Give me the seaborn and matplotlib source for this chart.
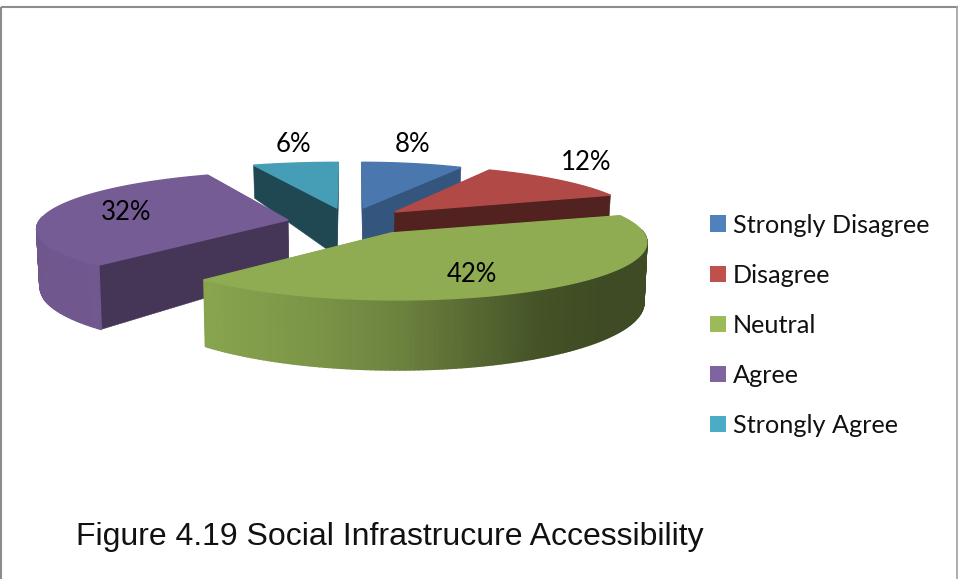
import numpy as np
import matplotlib
matplotlib.use("Agg")
import matplotlib.pyplot as plt
from matplotlib.patches import Patch
import seaborn as sns

# ---- data ----
categories = ["Strongly Disagree", "Disagree", "Neutral", "Agree", "Strongly Agree"]
values = [8, 12, 42, 32, 6]
hex_colors = ["#4F81BD", "#C0504D", "#9BBB59", "#8064A2", "#4BACC6"]
explode_x = [0.055, 0.187, 0.163, -0.253, -0.055]
explode_y = [0.225, 0.150, -0.230, 0.000, 0.225]
radius_x = [0.96, 1.0, 1.0, 1.012, 1.08]
rotate_deg = [0.0, 1.5, 0.0, 1.5, 0.0]
label_xy = [(413, 144), (586, 163), (472, 275), (126, 213), (293, 144)]
wall_factor = [0.66, 0.42, 0.55, 0.54, 0.42]
draw_order = [0, 4, 1, 3, 2]

sns.set_theme(style="white")
palette = sns.color_palette(hex_colors)
LABEL_FONT = "Lato"

# ---- projection of the tilted pie ----
X0, HORIZON, C, K, A = 350.0, -200.0, 420.0, 0.13, 245.0

def project(px, py):
    u = 1.0 / (1.0 + K * py)
    return X0 + A * px * u, HORIZON + C * u

def drop(x, y):
    h = np.interp(y, [166, 240, 300], [33, 60, 70])
    return X0 + (x - X0) * 0.99, y + h

def rim_factor(sin_t):
    return np.interp(sin_t, [-1, -0.68, -0.3, 0.0, 0.5, 0.75, 1.0],
                     [0.87, 0.88, 0.80, 0.70, 0.44, 0.40, 0.40])

def shade(c, f):
    return tuple(np.clip(np.array(c) * f, 0, 1))

fig = plt.figure(figsize=(9.58, 5.79), dpi=100)
ax = fig.add_axes([0, 0, 1, 1])
ax.set_xlim(0, 958)
ax.set_ylim(579, 0)
ax.axis("off")

fractions = np.array(values) / np.sum(values)
edges = np.concatenate([[0], np.cumsum(fractions)]) * 2 * np.pi

for layer, i in enumerate(draw_order):
    base_z = layer * 3
    t = np.linspace(edges[i], edges[i + 1], 160) - np.deg2rad(rotate_deg[i])
    cx, cy = explode_x[i], explode_y[i]
    xa, ya = project(cx, cy)
    xr, yr = project(cx + radius_x[i] * np.sin(t), cy + np.cos(t))
    xa_b, ya_b = drop(xa, ya)
    xr_b, yr_b = drop(xr, yr)
    wall = shade(palette[i], wall_factor[i])

    # radial walls
    for k in (0, -1):
        ax.fill([xa, xr[k], xr_b[k], xa_b], [ya, yr[k], yr_b[k], ya_b],
                facecolor=wall, edgecolor=wall, lw=0.4, zorder=base_z + 1)
    # rim, shaded along the angle (front-facing part only)
    for j in range(len(t) - 1):
        mid = 0.5 * (t[j] + t[j + 1])
        if np.cos(mid) > 0.05:
            continue
        c = shade(palette[i], rim_factor(np.sin(mid)))
        ax.fill([xr[j], xr[j + 1], xr_b[j + 1], xr_b[j]],
                [yr[j], yr[j + 1], yr_b[j + 1], yr_b[j]],
                facecolor=c, edgecolor=c, lw=1.2, joinstyle="round", zorder=base_z + 2)
    # top face
    top = shade(palette[i], 0.92)
    ax.fill(np.r_[xa, xr], np.r_[ya, yr], facecolor=top, edgecolor=top, lw=1.0,
            zorder=base_z + 3)

# ---- data labels ----
for v, (lx, ly) in zip(values, label_xy):
    ax.text(lx, ly, f"{v}%", ha="center", va="center", fontsize=18.5,
            family=LABEL_FONT, color="black", zorder=40)

# ---- legend ----
handles = [Patch(facecolor=c, edgecolor="none") for c in palette]
leg = ax.legend(handles, categories, loc="upper left", bbox_to_anchor=(0.741, 0.631),
                frameon=False, prop={"family": LABEL_FONT, "size": 18.2},
                handlelength=0.63, handleheight=0.63, handletextpad=0.27,
                labelspacing=1.07, borderpad=0, borderaxespad=0,
                labelcolor="#111111")

# ---- caption ----
ax.text(76, 536.5, "Figure 4.19 Social Infrastrucure Accessibility", ha="left", va="center",
        fontsize=23.0, family="Liberation Sans", color="#111111", zorder=40)

# ---- outer frame ----
frame = "#8c8c8c"
ax.plot([1.5, 1.5], [579, 6.5], color=frame, lw=1.5, solid_capstyle="butt", zorder=50)
ax.plot([1, 958], [6.5, 6.5], color=frame, lw=1.5, solid_capstyle="butt", zorder=50)
ax.plot([957.2, 957.2], [6, 579], color="#a0a0a0", lw=1.2, solid_capstyle="butt", zorder=50)

fig.savefig("out.png", dpi=100, facecolor="white")
